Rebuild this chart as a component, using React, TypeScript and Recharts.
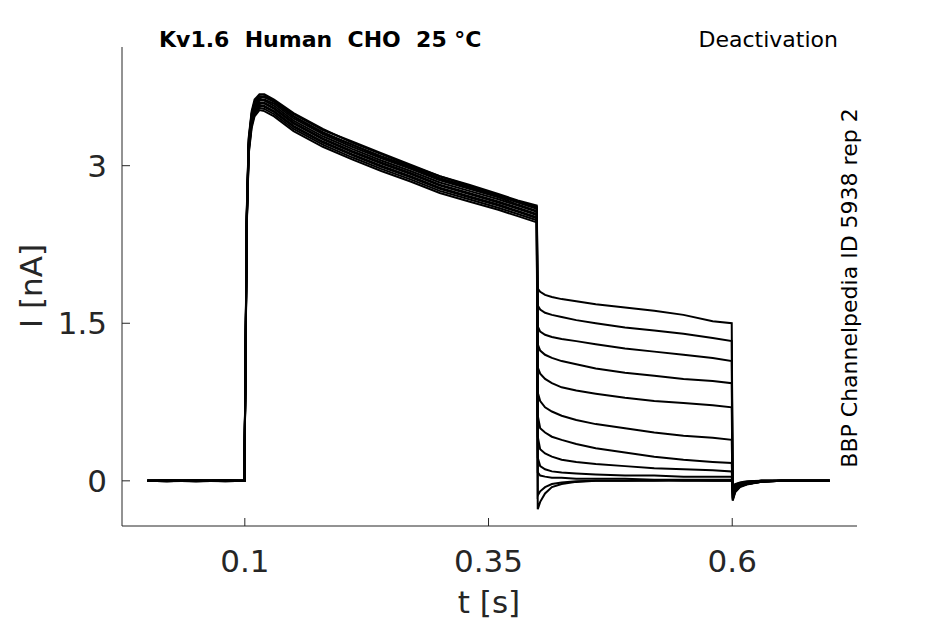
import React from "react"
import { LineChart, Line, XAxis, YAxis } from "recharts"

// sample times [s]
const times = [
  0, 0.02, 0.05, 0.08, 0.0995,
  0.1005, 0.102, 0.104, 0.107, 0.11, 0.115, 0.12, 0.13, 0.15, 0.18, 0.21, 0.24, 0.27, 0.3, 0.33, 0.36, 0.38, 0.3995,
  0.4005, 0.403, 0.408, 0.415, 0.425, 0.44, 0.46, 0.49, 0.52, 0.55, 0.58, 0.5995,
  0.6005, 0.603, 0.608, 0.615, 0.63, 0.65, 0.7,
]

// currents [nA], one sweep per array: baseline | step | tail | return
const sweep1 = [
  0, 0.005, -0.005, 0.005, 0,
  0.95, 2.58, 3.27, 3.52, 3.63, 3.68, 3.68, 3.63, 3.5, 3.35, 3.22, 3.11, 3.0, 2.9, 2.82, 2.73, 2.67, 2.62,
  1.83, 1.8, 1.77, 1.75, 1.73, 1.71, 1.68, 1.65, 1.62, 1.58, 1.52, 1.5,
  -0.19, -0.11, -0.06, -0.035, -0.01, 0, 0,
]
const sweep2 = [
  0, -0.005, 0.005, 0, 0,
  0.92, 2.54, 3.24, 3.49, 3.6, 3.66, 3.65, 3.61, 3.47, 3.31, 3.2, 3.08, 2.98, 2.87, 2.79, 2.71, 2.65, 2.59,
  1.67, 1.63, 1.6, 1.58, 1.56, 1.53, 1.5, 1.46, 1.43, 1.4, 1.36, 1.33,
  -0.18, -0.1, -0.055, -0.03, -0.01, 0, 0,
]
const sweep3 = [
  0, 0, 0.005, -0.005, 0,
  0.9, 2.52, 3.22, 3.47, 3.58, 3.64, 3.66, 3.62, 3.49, 3.34, 3.23, 3.12, 3.01, 2.9, 2.81, 2.72, 2.66, 2.61,
  1.47, 1.42, 1.39, 1.37, 1.35, 1.33, 1.3, 1.26, 1.23, 1.2, 1.17, 1.14,
  -0.17, -0.1, -0.05, -0.03, -0.01, 0, 0,
]
const sweep4 = [
  0, 0.005, 0, 0, 0,
  0.88, 2.5, 3.2, 3.45, 3.56, 3.62, 3.62, 3.57, 3.43, 3.28, 3.16, 3.05, 2.95, 2.84, 2.76, 2.68, 2.62, 2.56,
  1.3, 1.24, 1.2, 1.17, 1.14, 1.11, 1.07, 1.03, 1.0, 0.97, 0.95, 0.93,
  -0.16, -0.09, -0.05, -0.03, -0.01, 0, 0,
]
const sweep5 = [
  0, -0.005, 0, 0.005, 0,
  0.9, 2.49, 3.19, 3.44, 3.55, 3.6, 3.6, 3.55, 3.41, 3.26, 3.14, 3.03, 2.93, 2.82, 2.74, 2.66, 2.6, 2.54,
  1.08, 1.02, 0.97, 0.93, 0.89, 0.86, 0.83, 0.79, 0.76, 0.74, 0.72, 0.7,
  -0.15, -0.08, -0.045, -0.025, -0.005, 0, 0,
]
const sweep6 = [
  0, 0, -0.005, 0, 0,
  0.91, 2.51, 3.21, 3.46, 3.57, 3.63, 3.63, 3.59, 3.45, 3.3, 3.18, 3.07, 2.97, 2.86, 2.78, 2.7, 2.63, 2.57,
  0.84, 0.76, 0.7, 0.66, 0.62, 0.58, 0.54, 0.5, 0.46, 0.43, 0.41, 0.39,
  -0.13, -0.07, -0.04, -0.02, -0.005, 0, 0,
]
const sweep7 = [
  0, 0.005, 0, -0.005, 0,
  0.87, 2.46, 3.16, 3.41, 3.52, 3.58, 3.57, 3.52, 3.38, 3.23, 3.11, 3.0, 2.9, 2.79, 2.71, 2.63, 2.57, 2.51,
  0.62, 0.5, 0.46, 0.42, 0.39, 0.35, 0.31, 0.27, 0.23, 0.2, 0.18, 0.17,
  -0.11, -0.06, -0.035, -0.02, -0.005, 0, 0,
]
const sweep8 = [
  0, 0, 0, 0.005, 0,
  0.85, 2.44, 3.13, 3.38, 3.49, 3.55, 3.54, 3.49, 3.35, 3.2, 3.08, 2.97, 2.87, 2.76, 2.68, 2.6, 2.54, 2.48,
  0.42, 0.3, 0.26, 0.23, 0.2, 0.18, 0.16, 0.14, 0.12, 0.11, 0.1, 0.09,
  -0.09, -0.05, -0.03, -0.015, 0, 0, 0,
]
const sweep9 = [
  0, -0.005, 0.005, 0, 0,
  0.89, 2.48, 3.18, 3.43, 3.54, 3.6, 3.59, 3.54, 3.4, 3.25, 3.13, 3.02, 2.92, 2.81, 2.73, 2.65, 2.59, 2.53,
  0.22, 0.14, 0.11, 0.09, 0.08, 0.07, 0.06, 0.05, 0.05, 0.04, 0.04, 0.04,
  -0.08, -0.045, -0.025, -0.01, 0, 0, 0,
]
const sweep10 = [
  0, 0, 0, 0, 0,
  0.84, 2.42, 3.11, 3.36, 3.47, 3.53, 3.52, 3.47, 3.33, 3.18, 3.06, 2.95, 2.85, 2.74, 2.66, 2.58, 2.52, 2.46,
  0.08, 0.05, 0.04, 0.03, 0.03, 0.02, 0.02, 0.02, 0.01, 0.01, 0.01, 0.01,
  -0.07, -0.04, -0.02, -0.01, 0, 0, 0,
]
const sweep11 = [
  0, 0.005, 0, 0, 0,
  0.93, 2.55, 3.25, 3.5, 3.61, 3.66, 3.66, 3.61, 3.47, 3.32, 3.2, 3.09, 2.99, 2.88, 2.8, 2.72, 2.66, 2.6,
  -0.14, -0.1, -0.06, -0.03, -0.015, -0.005, 0, 0, 0, 0.005, 0, 0,
  -0.07, -0.035, -0.02, -0.01, 0, 0, 0,
]
const sweep12 = [
  0, 0, -0.005, 0, 0,
  0.86, 2.45, 3.15, 3.4, 3.51, 3.57, 3.56, 3.51, 3.37, 3.22, 3.1, 2.99, 2.89, 2.78, 2.7, 2.62, 2.56, 2.5,
  -0.27, -0.2, -0.12, -0.06, -0.03, -0.01, 0, 0, 0.005, 0, 0, 0,
  -0.06, -0.03, -0.015, -0.005, 0, 0, 0,
]

const sweeps = [sweep1, sweep2, sweep3, sweep4, sweep5, sweep6, sweep7, sweep8, sweep9, sweep10, sweep11, sweep12]

const xTicks = [0.1, 0.35, 0.6]
const yTicks = [0, 1.5, 3]

const data = times.map((t, i) => {
  const row: Record<string, number> = { t }
  sweeps.forEach((s, k) => {
    row["s" + k] = s[i]
  })
  return row
})

const font = "DejaVu Sans"
const axisColor = "#262626"
const tickLen = 8
const xGap = 24
const yGap = 15

// ticks point into the plot, as in the original figure
function XTick(props: any) {
  const { x, y, payload } = props
  return (
    <g>
      <line x1={x} x2={x} y1={y - xGap} y2={y - xGap - tickLen} stroke={axisColor} />
      <text x={x} y={y} dy="0.71em" textAnchor="middle" fill={axisColor} fontSize={31} fontFamily={font}>
        {String(payload.value)}
      </text>
    </g>
  )
}

function YTick(props: any) {
  const { x, y, payload } = props
  return (
    <g>
      <line x1={x + yGap} x2={x + yGap + tickLen} y1={y} y2={y} stroke={axisColor} />
      <text x={x} y={y} dy="0.355em" textAnchor="end" fill={axisColor} fontSize={31} fontFamily={font}>
        {String(payload.value)}
      </text>
    </g>
  )
}

export default function App() {
  return (
    <div style={{ position: "absolute", left: 0, top: 0, width: 945, height: 624, background: "#fff" }}>
      <LineChart width={945} height={624} data={data} margin={{ top: 47, right: 88, left: 0, bottom: 0 }}>
        <XAxis
          dataKey="t"
          type="number"
          domain={[-0.026, 0.728]}
          ticks={xTicks}
          interval={0}
          allowDataOverflow
          height={98}
          stroke={axisColor}
          tickLine={false}
          tickSize={0}
          tickMargin={xGap}
          tick={<XTick />}
        />
        <YAxis
          type="number"
          domain={[-0.43, 4.13]}
          ticks={yTicks}
          interval={0}
          allowDataOverflow
          width={122}
          stroke={axisColor}
          tickLine={false}
          tickSize={0}
          tickMargin={yGap}
          tick={<YTick />}
        />
        {sweeps.map((_, k) => (
          <Line
            key={k}
            type="linear"
            dataKey={"s" + k}
            stroke="#000"
            strokeWidth={2}
            dot={false}
            isAnimationActive={false}
          />
        ))}
      </LineChart>
      <svg
        width={945}
        height={624}
        style={{ position: "absolute", left: 0, top: 0, pointerEvents: "none" }}
        fontFamily={font}
      >
        <text x={159} y={47} fontSize={22} fontWeight="bold" fill="#000" style={{ whiteSpace: "pre" }}>
          {"Kv1.6  Human  CHO  25 °C"}
        </text>
        <text x={838} y={47} fontSize={22} fill="#000" textAnchor="end">
          Deactivation
        </text>
        <text transform="translate(857,288) rotate(-90)" fontSize={22} fill="#000" textAnchor="middle">
          BBP Channelpedia ID 5938 rep 2
        </text>
        <text x={489} y={613} fontSize={31} fill={axisColor} textAnchor="middle">
          t [s]
        </text>
        <text transform="translate(42,286) rotate(-90)" fontSize={31} fill={axisColor} textAnchor="middle">
          I [nA]
        </text>
      </svg>
    </div>
  )
}
